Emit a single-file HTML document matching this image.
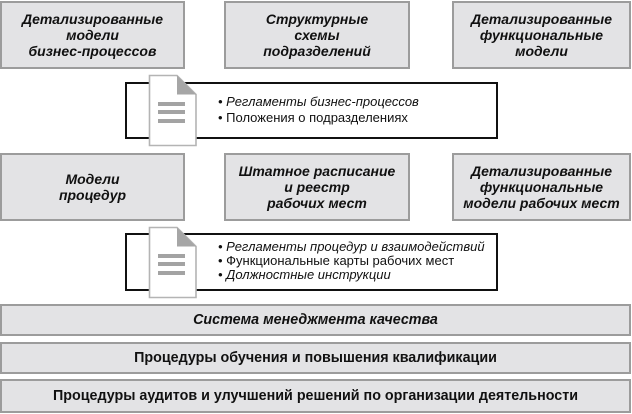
<!DOCTYPE html>
<html><head><meta charset="utf-8"><style>
html,body{margin:0;padding:0;background:#fff;}
body{width:632px;height:414px;position:relative;overflow:hidden;font-family:"Liberation Sans",sans-serif;}
.b{position:absolute;box-sizing:border-box;background:#e3e3e5;border:2px solid #9c9c9c;display:flex;align-items:center;justify-content:center;text-align:center;font-weight:bold;font-style:italic;font-size:14px;line-height:16px;color:#111;}
.d{position:absolute;box-sizing:border-box;border:2px solid #111;background:#fff;}
.t{position:absolute;left:218px;font-size:13px;color:#111;white-space:nowrap;}
.bar{position:absolute;left:0;width:631px;box-sizing:border-box;background:#e3e3e5;border:2px solid #9c9c9c;display:flex;align-items:center;justify-content:center;font-weight:bold;font-size:14.3px;color:#111;}
svg{position:absolute;}
</style></head><body>
<div class="b" style="left:0;top:1px;width:185px;height:68px;">Детализированные<br>модели<br>бизнес-процессов</div>
<div class="b" style="left:224px;top:1px;width:186px;height:68px;">Структурные<br>схемы<br>подразделений</div>
<div class="b" style="left:452px;top:1px;width:179px;height:68px;">Детализированные<br>функциональные<br>модели</div>

<div class="d" style="left:125px;top:82px;width:373px;height:57px;"></div>
<svg style="left:148px;top:74px" width="50" height="73" viewBox="0 0 50 73">
<path d="M1.5 1.5 H29 L48 20.5 V71.5 H1.5 Z" fill="#fff" stroke="#b4b4b4" stroke-width="1.6"/>
<path d="M29 1.5 V20.5 H48 Z" fill="#a6a6a6"/>
<rect x="10" y="28" width="27" height="4" fill="#a3a3a3"/>
<rect x="10" y="36" width="27" height="4" fill="#a3a3a3"/>
<rect x="10" y="45" width="27" height="4" fill="#a3a3a3"/>
</svg>
<div class="t" style="top:94px;line-height:16px;"><i>• Регламенты бизнес-процессов</i><br>• Положения о подразделениях</div>

<div class="b" style="left:0;top:153px;width:185px;height:68px;">Модели<br>процедур</div>
<div class="b" style="left:224px;top:153px;width:186px;height:68px;">Штатное расписание<br>и реестр<br>рабочих мест</div>
<div class="b" style="left:452px;top:153px;width:179px;height:68px;">Детализированные<br>функциональные<br>модели рабочих мест</div>

<div class="d" style="left:125px;top:233px;width:373px;height:58px;"></div>
<svg style="left:148px;top:226px" width="50" height="73" viewBox="0 0 50 73">
<path d="M1.5 1.5 H29 L48 20.5 V71.5 H1.5 Z" fill="#fff" stroke="#b4b4b4" stroke-width="1.6"/>
<path d="M29 1.5 V20.5 H48 Z" fill="#a6a6a6"/>
<rect x="10" y="28" width="27" height="4" fill="#a3a3a3"/>
<rect x="10" y="36" width="27" height="4" fill="#a3a3a3"/>
<rect x="10" y="45" width="27" height="4" fill="#a3a3a3"/>
</svg>
<div class="t" style="top:240px;line-height:14px;"><i>• Регламенты процедур и взаимодействий</i><br>• Функциональные карты рабочих мест<br><i>• Должностные инструкции</i></div>

<div class="bar" style="top:304px;height:32px;font-style:italic;">Система менеджмента качества</div>
<div class="bar" style="top:342px;height:32px;">Процедуры обучения и повышения квалификации</div>
<div class="bar" style="top:379px;height:34px;">Процедуры аудитов и улучшений решений по организации деятельности</div>
</body></html>
